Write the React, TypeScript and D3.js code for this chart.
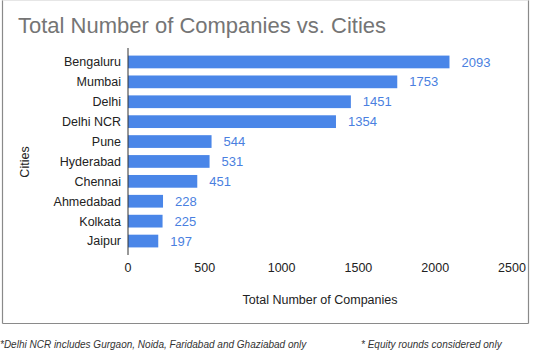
import React from "react";
import * as d3 from "d3";

const cities = ["Bengaluru", "Mumbai", "Delhi", "Delhi NCR", "Pune", "Hyderabad", "Chennai", "Ahmedabad", "Kolkata", "Jaipur"];
const companies = [2093, 1753, 1451, 1354, 544, 531, 451, 228, 225, 197];
const xTicks = [0, 500, 1000, 1500, 2000, 2500];
const title = "Total Number of Companies vs. Cities";
const xTitle = "Total Number of Companies";
const yTitle = "Cities";
const note1 = "*Delhi NCR includes Gurgaon, Noida, Faridabad and Ghaziabad only";
const note2 = "* Equity rounds considered only";

const W = 560;
const H = 360;
const FONT = "Arial, 'Liberation Sans', sans-serif";

export default function App() {
  const x = d3.scaleLinear().domain([0, 2500]).range([128, 512]);
  const y = d3.scaleBand<string>().domain(cities).range([52, 251]).paddingInner(0.36).paddingOuter(0.18);
  return (
    <svg width={W} height={H} style={{ position: "absolute", left: 0, top: 0, background: "#fff" }} fontFamily={FONT}>
      <rect x={0} y={0} width={W} height={H} fill="#fff" />
      {/* border */}
      <line x1={2.5} y1={0} x2={2.5} y2={323.5} stroke="#8a8a8a" strokeWidth={1.2} />
      <line x1={528.5} y1={0} x2={528.5} y2={323.5} stroke="#8a8a8a" strokeWidth={1.2} />
      <line x1={2.5} y1={323.5} x2={528.5} y2={323.5} stroke="#8a8a8a" strokeWidth={1.2} />
      <line x1={2.5} y1={0.5} x2={528.5} y2={0.5} stroke="#e6e6e6" strokeWidth={1} />

      <text x={18} y={33} fontSize={22} fill="#757575">{title}</text>

      {cities.map((c, i) => {
        const yy = y(c)!;
        const bw = y.bandwidth();
        return (
          <g key={c}>
            <rect x={x(0)} y={yy} width={x(companies[i]) - x(0)} height={bw} fill="#4a86e8" />
            <text x={121} y={yy + bw / 2} dy="0.35em" textAnchor="end" fontSize={12.5} fill="#222">{c}</text>
            <text x={x(companies[i]) + 12} y={yy + bw / 2} dy="0.35em" fontSize={13} fill="#4a7fe0">{companies[i]}</text>
          </g>
        );
      })}

      <line x1={128} y1={48} x2={128} y2={255} stroke="#333" strokeWidth={1} />

      {xTicks.map((t) => (
        <text key={t} x={x(t)} y={272} textAnchor="middle" fontSize={12.5} fill="#222">{t}</text>
      ))}

      <text x={320} y={304} textAnchor="middle" fontSize={12.5} fill="#222">{xTitle}</text>
      <text transform="translate(29,162) rotate(-90)" textAnchor="middle" fontSize={12.5} fill="#222">{yTitle}</text>

      <text x={0} y={348} fontSize={10} fontStyle="italic" fill="#333">{note1}</text>
      <text x={361} y={348} fontSize={10} fontStyle="italic" fill="#333">{note2}</text>
    </svg>
  );
}
